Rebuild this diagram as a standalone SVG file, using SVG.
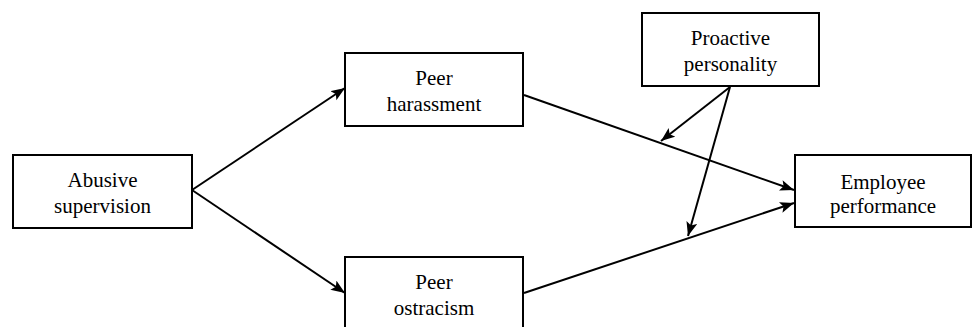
<svg xmlns="http://www.w3.org/2000/svg" width="973" height="327" viewBox="0 0 973 327">
<style>
.box{fill:#fff;stroke:#000;stroke-width:2}
.lbl{font-family:'Liberation Serif','Times New Roman',serif;font-size:21px;fill:#000;text-anchor:middle}
.edge{stroke:#000;stroke-width:2;fill:none;marker-end:url(#ah)}
</style>
<defs>
<marker id="ah" markerUnits="userSpaceOnUse" markerWidth="15" markerHeight="12" refX="14" refY="5.5" orient="auto">
<path d="M0,0 L14,5.5 L0,11 L3,5.5 z" fill="#000"/>
</marker>
</defs>
<rect width="973" height="327" fill="#fff"/>
<g id="connectors">
<line class="edge" x1="192" y1="190" x2="345" y2="88"/>
<line class="edge" x1="192" y1="190" x2="345" y2="293"/>
<line class="edge" x1="524" y1="95" x2="794" y2="190"/>
<line class="edge" x1="524" y1="293" x2="794" y2="203"/>
<line class="edge" x1="730" y1="87" x2="661" y2="141"/>
<line class="edge" x1="730" y1="87" x2="688" y2="236"/>
</g>
<g id="abusive">
<rect class="box" x="13" y="155" width="179" height="73"/>
<text class="lbl" x="102.5" y="187">Abusive</text>
<text class="lbl" x="102.5" y="213">supervision</text>
</g>
<g id="harassment">
<rect class="box" x="345" y="53" width="178" height="73"/>
<text class="lbl" x="434" y="85">Peer</text>
<text class="lbl" x="434" y="111">harassment</text>
</g>
<g id="ostracism">
<rect class="box" x="345" y="257" width="178" height="73"/>
<text class="lbl" x="434" y="289">Peer</text>
<text class="lbl" x="434" y="315">ostracism</text>
</g>
<g id="proactive">
<rect class="box" x="642" y="13" width="177" height="73"/>
<text class="lbl" x="730.5" y="45">Proactive</text>
<text class="lbl" x="730.5" y="71">personality</text>
</g>
<g id="performance">
<rect class="box" x="795" y="155" width="176" height="72"/>
<text class="lbl" x="883" y="189">Employee</text>
<text class="lbl" x="883" y="213">performance</text>
</g>
</svg>
